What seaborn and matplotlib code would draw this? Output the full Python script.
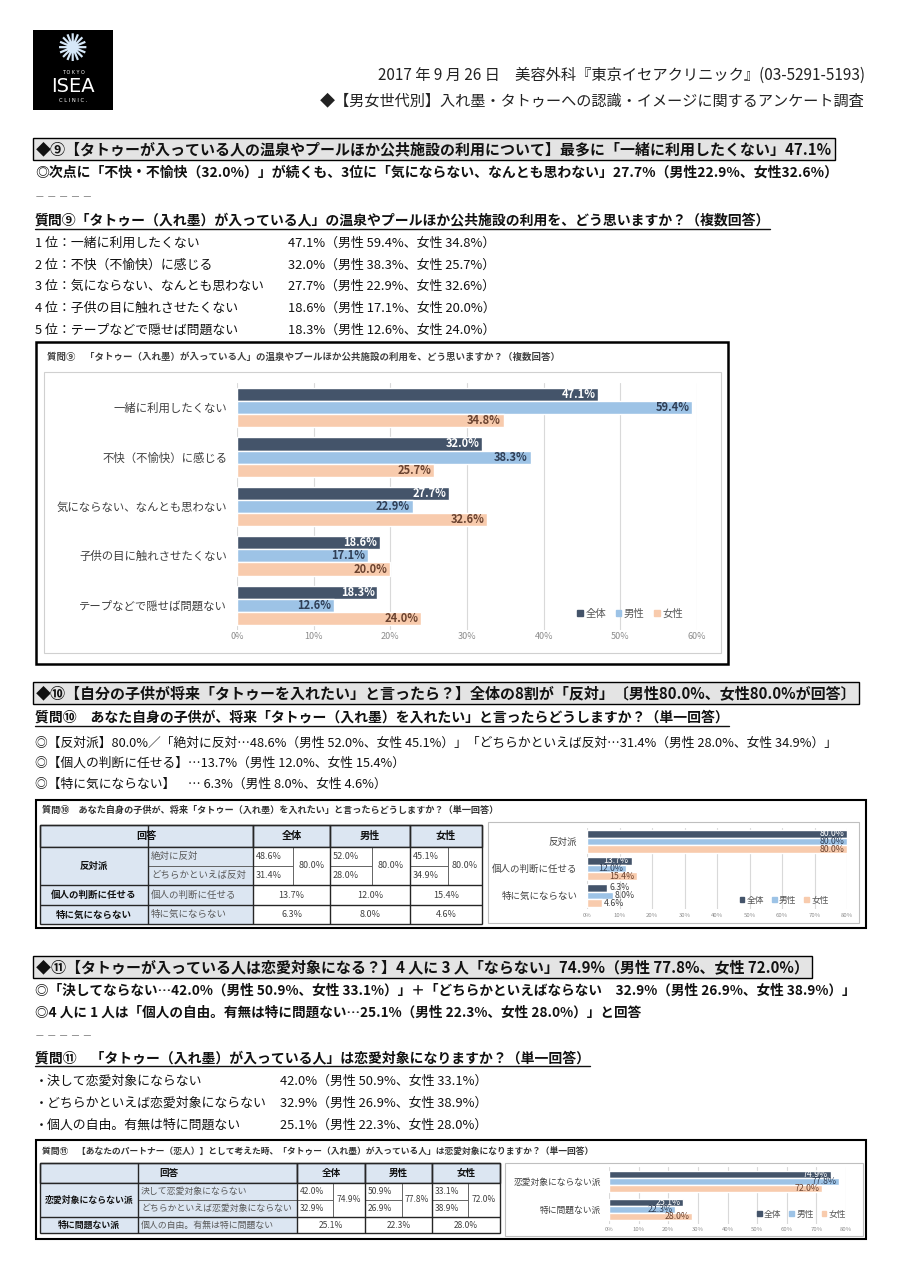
import numpy as np
import pandas as pd
import matplotlib
matplotlib.use('Agg')
import matplotlib.pyplot as plt
import seaborn as sns
from matplotlib.patches import Rectangle, Patch

# ---------------- data ----------------
groups = ['全体', '男性', '女性']

q9_items = ['一緒に利用したくない', '不快（不愉快）に感じる', '気にならない、なんとも思わない',
            '子供の目に触れさせたくない', 'テープなどで隠せば問題ない']
q9_all = [47.1, 32.0, 27.7, 18.6, 18.3]
q9_male = [59.4, 38.3, 22.9, 17.1, 12.6]
q9_female = [34.8, 25.7, 32.6, 20.0, 24.0]

q10_items = ['反対派', '個人の判断に任せる', '特に気にならない']
q10_all = [80.0, 13.7, 6.3]
q10_male = [80.0, 12.0, 8.0]
q10_female = [80.0, 15.4, 4.6]
q10_sub = ['絶対に反対', 'どちらかといえば反対']
q10_sub_all = [48.6, 31.4]
q10_sub_male = [52.0, 28.0]
q10_sub_female = [45.1, 34.9]

q11_items = ['恋愛対象にならない派', '特に問題ない派']
q11_all = [74.9, 25.1]
q11_male = [77.8, 22.3]
q11_female = [72.0, 28.0]
q11_sub = ['決して恋愛対象にならない', 'どちらかといえば恋愛対象にならない']
q11_free = '個人の自由。有無は特に問題ない'
q11_sub_all = [42.0, 32.9]
q11_sub_male = [50.9, 26.9]
q11_sub_female = [33.1, 38.9]

# ---------------- style ----------------
sns.set_theme(style='white')
FONTS = ['Noto Sans CJK JP', 'DejaVu Sans']
plt.rcParams['font.family'] = FONTS

PAL = {'全体': '#44546A', '男性': '#9DC3E6', '女性': '#F8CBAD'}
VALC = {'全体': 'white', '男性': '#2F3E55', '女性': '#6B4330'}
LBLUE = '#DCE6F2'

W, H = 900, 1273
fig = plt.figure(figsize=(9, 12.73), dpi=100)
page = fig.add_axes([0, 0, 1, 1])
page.set_xlim(0, W)
page.set_ylim(H, 0)
page.axis('off')


def ax_at(x0, y0, x1, y1):
    return fig.add_axes([x0 / W, 1 - y1 / H, (x1 - x0) / W, (y1 - y0) / H])


def txt(x, y, s, fs=9.5, bold=False, color='#111111', ha='left', **kw):
    return page.text(x, y, s, fontsize=fs, fontweight='bold' if bold else 'normal',
                     color=color, ha=ha, va='center', **kw)


def pct(v):
    return f'{v:.1f}%'


# ---------------- header / logo ----------------
page.add_patch(Rectangle((33, 30), 80, 80, fc='black', ec='none'))
page.text(73, 51, '✺', fontsize=27, color='#D6E8F8', ha='center', va='center', family='DejaVu Sans')
page.text(73, 73, 'T O K Y O', fontsize=3.5, color='white', ha='center', va='center', family='DejaVu Sans')
page.text(73, 86, 'ISEA', fontsize=14, color='white', ha='center', va='center', family='DejaVu Sans')
page.text(73, 100, 'C L I N I C .', fontsize=3.8, color='white', ha='center', va='center', family='DejaVu Sans')

txt(865, 75, '2017 年 9 月 26 日　美容外科『東京イセアクリニック』(03-5291-5193)', fs=11, ha='right', color='#222222')
txt(865, 101, '◆【男女世代別】入れ墨・タトゥーへの認識・イメージに関するアンケート調査', fs=10.9, ha='right', color='#222222')

TITLE_BOX = dict(boxstyle='square,pad=0.18', fc='#E4E4E4', ec='black', lw=1.0)
underlines = []

# ---------------- section 9 text ----------------
txt(36, 149, '◆⑨【タトゥーが入っている人の温泉やプールほか公共施設の利用について】最多に「一緒に利用したくない」47.1%',
    fs=10.8, bold=True, bbox=TITLE_BOX)
txt(35, 173, '◎次点に「不快・不愉快（32.0%）」が続くも、3位に「気にならない、なんとも思わない」27.7%（男性22.9%、女性32.6%）',
    fs=10, bold=True)
txt(35, 197, '－ － － － －', fs=7, color='#777777')
underlines.append(txt(35, 221, '質問⑨「タトゥー（入れ墨）が入っている人」の温泉やプールほか公共施設の利用を、どう思いますか？（複数回答）',
                      fs=10, bold=True))
for i, (it, a, m, f) in enumerate(zip(q9_items, q9_all, q9_male, q9_female)):
    y = 243 + i * 21.8
    txt(35, y, f'{i + 1} 位：{it}', fs=9.3)
    txt(288, y, f'{pct(a)}（男性 {pct(m)}、女性 {pct(f)}）', fs=9.3)


# ---------------- bar chart helper ----------------
def draw_bars(ax, items, a, m, f, xmax, width, fs_cat, fs_val, fs_tick, ypad, tpad,
              leg_anchor, fs_leg, bold_val=True, outside_below=None):
    df = pd.DataFrame({'item': np.tile(items, 3),
                       'grp': np.repeat(groups, len(items)),
                       'val': np.concatenate([a, m, f])})
    sns.barplot(data=df, x='val', y='item', hue='grp', hue_order=groups, order=items,
                palette=PAL, orient='h', width=width, saturation=1, errorbar=None,
                legend=False, ax=ax)
    ax.set_xlim(0, xmax)
    ax.set_ylim(len(items) - 0.5, -0.5)
    ticks = np.arange(0, xmax + 1, 10)
    ax.set_xticks(ticks)
    ax.set_xticklabels([f'{int(t)}%' for t in ticks])
    ax.tick_params(axis='x', length=0, pad=tpad, labelsize=fs_tick, labelcolor='#8C8C8C')
    ax.tick_params(axis='y', length=0, pad=ypad, labelsize=fs_cat, labelcolor='#404040')
    ax.grid(axis='x', color='#D9D9D9', lw=0.8)
    ax.set_axisbelow(True)
    for s in ax.spines.values():
        s.set_visible(False)
    ax.set_xlabel('')
    ax.set_ylabel('')
    ax.patch.set_alpha(0)
    for grp, cont in zip(groups, ax.containers):
        for p in cont:
            w = p.get_width()
            yc = p.get_y() + p.get_height() / 2
            if outside_below is not None and w < outside_below:
                ax.annotate(pct(w), (w, yc), xytext=(1.5, 0), textcoords='offset points',
                            ha='left', va='center', fontsize=fs_val, color='#404040')
            else:
                ax.annotate(pct(w), (w, yc), xytext=(-2, 0), textcoords='offset points',
                            ha='right', va='center', fontsize=fs_val, color=VALC[grp],
                            fontweight='bold' if bold_val else 'normal')
    handles = [Patch(color=PAL[g]) for g in groups]
    leg = ax.legend(handles, groups, loc='center right', bbox_to_anchor=leg_anchor, ncol=3,
                    frameon=False, fontsize=fs_leg, handlelength=0.55, handleheight=0.55,
                    handletextpad=0.25, columnspacing=0.9, borderaxespad=0, borderpad=0)
    for t in leg.get_texts():
        t.set_color('#595959')


# ---------------- chart 9 ----------------
page.add_patch(Rectangle((36, 342), 692, 322, fc='white', ec='black', lw=1.8))
txt(47, 357, '質問⑨　「タトゥー（入れ墨）が入っている人」の温泉やプールほか公共施設の利用を、どう思いますか？（複数回答）',
    fs=6.8, bold=True, color='#404040')
page.add_patch(Rectangle((44, 372), 677, 281, fc='white', ec='#D0D0D0', lw=0.8))
ax9 = ax_at(237, 383, 697, 630)
draw_bars(ax9, q9_items, q9_all, q9_male, q9_female, 60, 0.8, fs_cat=8.2, fs_val=8, fs_tick=6.5,
          ypad=7, tpad=1.5, leg_anchor=(0.97, 0.065), fs_leg=7.5)

# ---------------- section 10 text ----------------
txt(36, 693, '◆⑩【自分の子供が将来「タトゥーを入れたい」と言ったら？】全体の8割が「反対」〔男性80.0%、女性80.0%が回答〕',
    fs=10.8, bold=True, bbox=TITLE_BOX)
underlines.append(txt(35, 718, '質問⑩　あなた自身の子供が、将来「タトゥー（入れ墨）を入れたい」と言ったらどうしますか？（単一回答）',
                      fs=10, bold=True))
txt(35, 743, f'◎【反対派】{pct(q10_all[0])}／「{q10_sub[0]}…{pct(q10_sub_all[0])}（男性 {pct(q10_sub_male[0])}、女性 {pct(q10_sub_female[0])}）」'
             f'「{q10_sub[1]}…{pct(q10_sub_all[1])}（男性 {pct(q10_sub_male[1])}、女性 {pct(q10_sub_female[1])}）」', fs=9.2)
txt(35, 763, f'◎【{q10_items[1]}】…{pct(q10_all[1])}（男性 {pct(q10_male[1])}、女性 {pct(q10_female[1])}）', fs=9.2)
txt(35, 784, f'◎【{q10_items[2]}】　… {pct(q10_all[2])}（男性 {pct(q10_male[2])}、女性 {pct(q10_female[2])}）', fs=9.2)


# ---------------- table helper ----------------
def rect(x0, y0, x1, y1, fc='white', ec='#595959', lw=0.6):
    page.add_patch(Rectangle((x0, y0), x1 - x0, y1 - y0, fc=fc, ec=ec, lw=lw))


def draw_table(cols, rows, group_label, sub_labels, sub_vals, totals, others, fs):
    c = cols
    r = rows
    # header
    rect(c[0], r[0], c[2], r[1], fc=LBLUE, ec='#262626', lw=1.0)
    txt((c[0] + c[2]) / 2, (r[0] + r[1]) / 2, '回答', fs=fs + 0.5, bold=True, ha='center')
    for k, g in enumerate(groups):
        rect(c[2 + 2 * k], r[0], c[4 + 2 * k], r[1], fc=LBLUE, ec='#262626', lw=1.0)
        txt((c[2 + 2 * k] + c[4 + 2 * k]) / 2, (r[0] + r[1]) / 2, g, fs=fs + 0.5, bold=True, ha='center')
    # grouped row (two sub rows)
    rect(c[0], r[1], c[1], r[3], fc=LBLUE)
    txt((c[0] + c[1]) / 2, (r[1] + r[3]) / 2, group_label, fs=fs, bold=True, ha='center')
    for j, sl in enumerate(sub_labels):
        rect(c[1], r[1 + j], c[2], r[2 + j], fc=LBLUE)
        txt(c[1] + 3, (r[1 + j] + r[2 + j]) / 2, sl, fs=fs, color='#595959')
    for k in range(3):
        for j in range(2):
            rect(c[2 + 2 * k], r[1 + j], c[3 + 2 * k], r[2 + j])
            txt(c[2 + 2 * k] + 3, (r[1 + j] + r[2 + j]) / 2, pct(sub_vals[k][j]), fs=fs - 0.3, color='#404040')
        rect(c[3 + 2 * k], r[1], c[4 + 2 * k], r[3])
        txt((c[3 + 2 * k] + c[4 + 2 * k]) / 2, (r[1] + r[3]) / 2, pct(totals[k]), fs=fs - 0.3,
            color='#404040', ha='center')
    # other rows
    for i, (lab, sub, vals) in enumerate(others):
        y0, y1 = r[3 + i], r[4 + i]
        rect(c[0], y0, c[1], y1, fc=LBLUE)
        txt((c[0] + c[1]) / 2, (y0 + y1) / 2, lab, fs=fs, bold=True, ha='center')
        rect(c[1], y0, c[2], y1, fc=LBLUE)
        txt(c[1] + 3, (y0 + y1) / 2, sub, fs=fs, color='#595959')
        for k in range(3):
            rect(c[2 + 2 * k], y0, c[4 + 2 * k], y1)
            txt((c[2 + 2 * k] + c[4 + 2 * k]) / 2, (y0 + y1) / 2, pct(vals[k]), fs=fs - 0.3,
                color='#404040', ha='center')
    # strong outlines
    for x in [c[0], c[1], c[2], c[4], c[6], c[8]]:
        page.plot([x, x], [r[0], r[-1]], color='#262626', lw=1.0, solid_capstyle='butt')
    for y in [r[0], r[1], r[3], r[-1]] + list(r[4:-1]):
        page.plot([c[0], c[8]], [y, y], color='#262626', lw=1.0, solid_capstyle='butt')


# ---------------- chart / table 10 ----------------
page.add_patch(Rectangle((36, 800), 830, 128, fc='white', ec='black', lw=1.5))
txt(42, 810, '質問⑩　あなた自身の子供が、将来「タトゥー（入れ墨）を入れたい」と言ったらどうしますか？（単一回答）',
    fs=6.6, bold=True, color='#333333')
draw_table([40, 148, 253, 293, 330, 372, 410, 448, 482], [825, 847, 866, 885, 905, 924],
           q10_items[0], q10_sub,
           [q10_sub_all, q10_sub_male, q10_sub_female],
           [q10_all[0], q10_male[0], q10_female[0]],
           [(q10_items[1], q10_items[1], [q10_all[1], q10_male[1], q10_female[1]]),
            (q10_items[2], q10_items[2], [q10_all[2], q10_male[2], q10_female[2]])],
           fs=6.8)
page.add_patch(Rectangle((488, 822), 371, 101, fc='white', ec='#BFBFBF', lw=0.8))
ax10 = ax_at(587, 828, 847, 909)
draw_bars(ax10, q10_items, q10_all, q10_male, q10_female, 80, 0.85, fs_cat=6.8, fs_val=6.3, fs_tick=4.3,
          ypad=7, tpad=3, leg_anchor=(0.93, 0.11), fs_leg=6.3, bold_val=False, outside_below=10)

# ---------------- section 11 text ----------------
txt(36, 967, '◆⑪【タトゥーが入っている人は恋愛対象になる？】4 人に 3 人「ならない」74.9%（男性 77.8%、女性 72.0%）',
    fs=10.8, bold=True, bbox=TITLE_BOX)
txt(35, 991, f'◎「決してならない…{pct(q11_sub_all[0])}（男性 {pct(q11_sub_male[0])}、女性 {pct(q11_sub_female[0])}）」＋'
             f'「どちらかといえばならない　{pct(q11_sub_all[1])}（男性 {pct(q11_sub_male[1])}、女性 {pct(q11_sub_female[1])}）」',
    fs=9.8, bold=True)
txt(35, 1013, f'◎4 人に 1 人は「{q11_free}…{pct(q11_all[1])}（男性 {pct(q11_male[1])}、女性 {pct(q11_female[1])}）」と回答',
    fs=9.8, bold=True)
txt(35, 1036, '－ － － － －', fs=7, color='#777777')
underlines.append(txt(35, 1058, '質問⑪　「タトゥー（入れ墨）が入っている人」は恋愛対象になりますか？（単一回答）',
                      fs=10, bold=True))
q11_list = [(q11_sub[0], q11_sub_all[0], q11_sub_male[0], q11_sub_female[0]),
            (q11_sub[1], q11_sub_all[1], q11_sub_male[1], q11_sub_female[1]),
            (q11_free, q11_all[1], q11_male[1], q11_female[1])]
for i, (lab, a, m, f) in enumerate(q11_list):
    y = 1081 + i * 22
    txt(35, y, f'・{lab}', fs=9.3)
    txt(280, y, f'{pct(a)}（男性 {pct(m)}、女性 {pct(f)}）', fs=9.3)

# ---------------- chart / table 11 ----------------
page.add_patch(Rectangle((36, 1140), 830, 99, fc='white', ec='black', lw=1.5))
txt(42, 1152, '質問⑪　【あなたのパートナー（恋人）】として考えた時、「タトゥー（入れ墨）が入っている人」は恋愛対象になりますか？（単一回答）',
    fs=6.3, bold=True, color='#333333')
draw_table([40, 138, 297, 333, 365, 402, 432, 468, 500], [1163, 1183, 1200, 1217, 1233],
           q11_items[0], q11_sub,
           [q11_sub_all, q11_sub_male, q11_sub_female],
           [q11_all[0], q11_male[0], q11_female[0]],
           [(q11_items[1], q11_free, [q11_all[1], q11_male[1], q11_female[1]])],
           fs=6.4)
page.add_patch(Rectangle((505, 1163), 358, 73, fc='white', ec='#BFBFBF', lw=0.8))
ax11 = ax_at(609, 1167, 846, 1224)
draw_bars(ax11, q11_items, q11_all, q11_male, q11_female, 80, 0.75, fs_cat=6.3, fs_val=6.3, fs_tick=4.3,
          ypad=6, tpad=2, leg_anchor=(1.0, 0.175), fs_leg=6.3, bold_val=False)

# ---------------- underlines for question lines ----------------
fig.canvas.draw()
renderer = fig.canvas.get_renderer()
inv = page.transData.inverted()
for t in underlines:
    bb = t.get_window_extent(renderer)
    (x0, y0), (x1, y1) = inv.transform([[bb.x0, bb.y0], [bb.x1, bb.y1]])
    page.plot([x0, x1], [y0 + 1, y0 + 1], color='#111111', lw=1.0)

fig.savefig('out.png', dpi=100)
